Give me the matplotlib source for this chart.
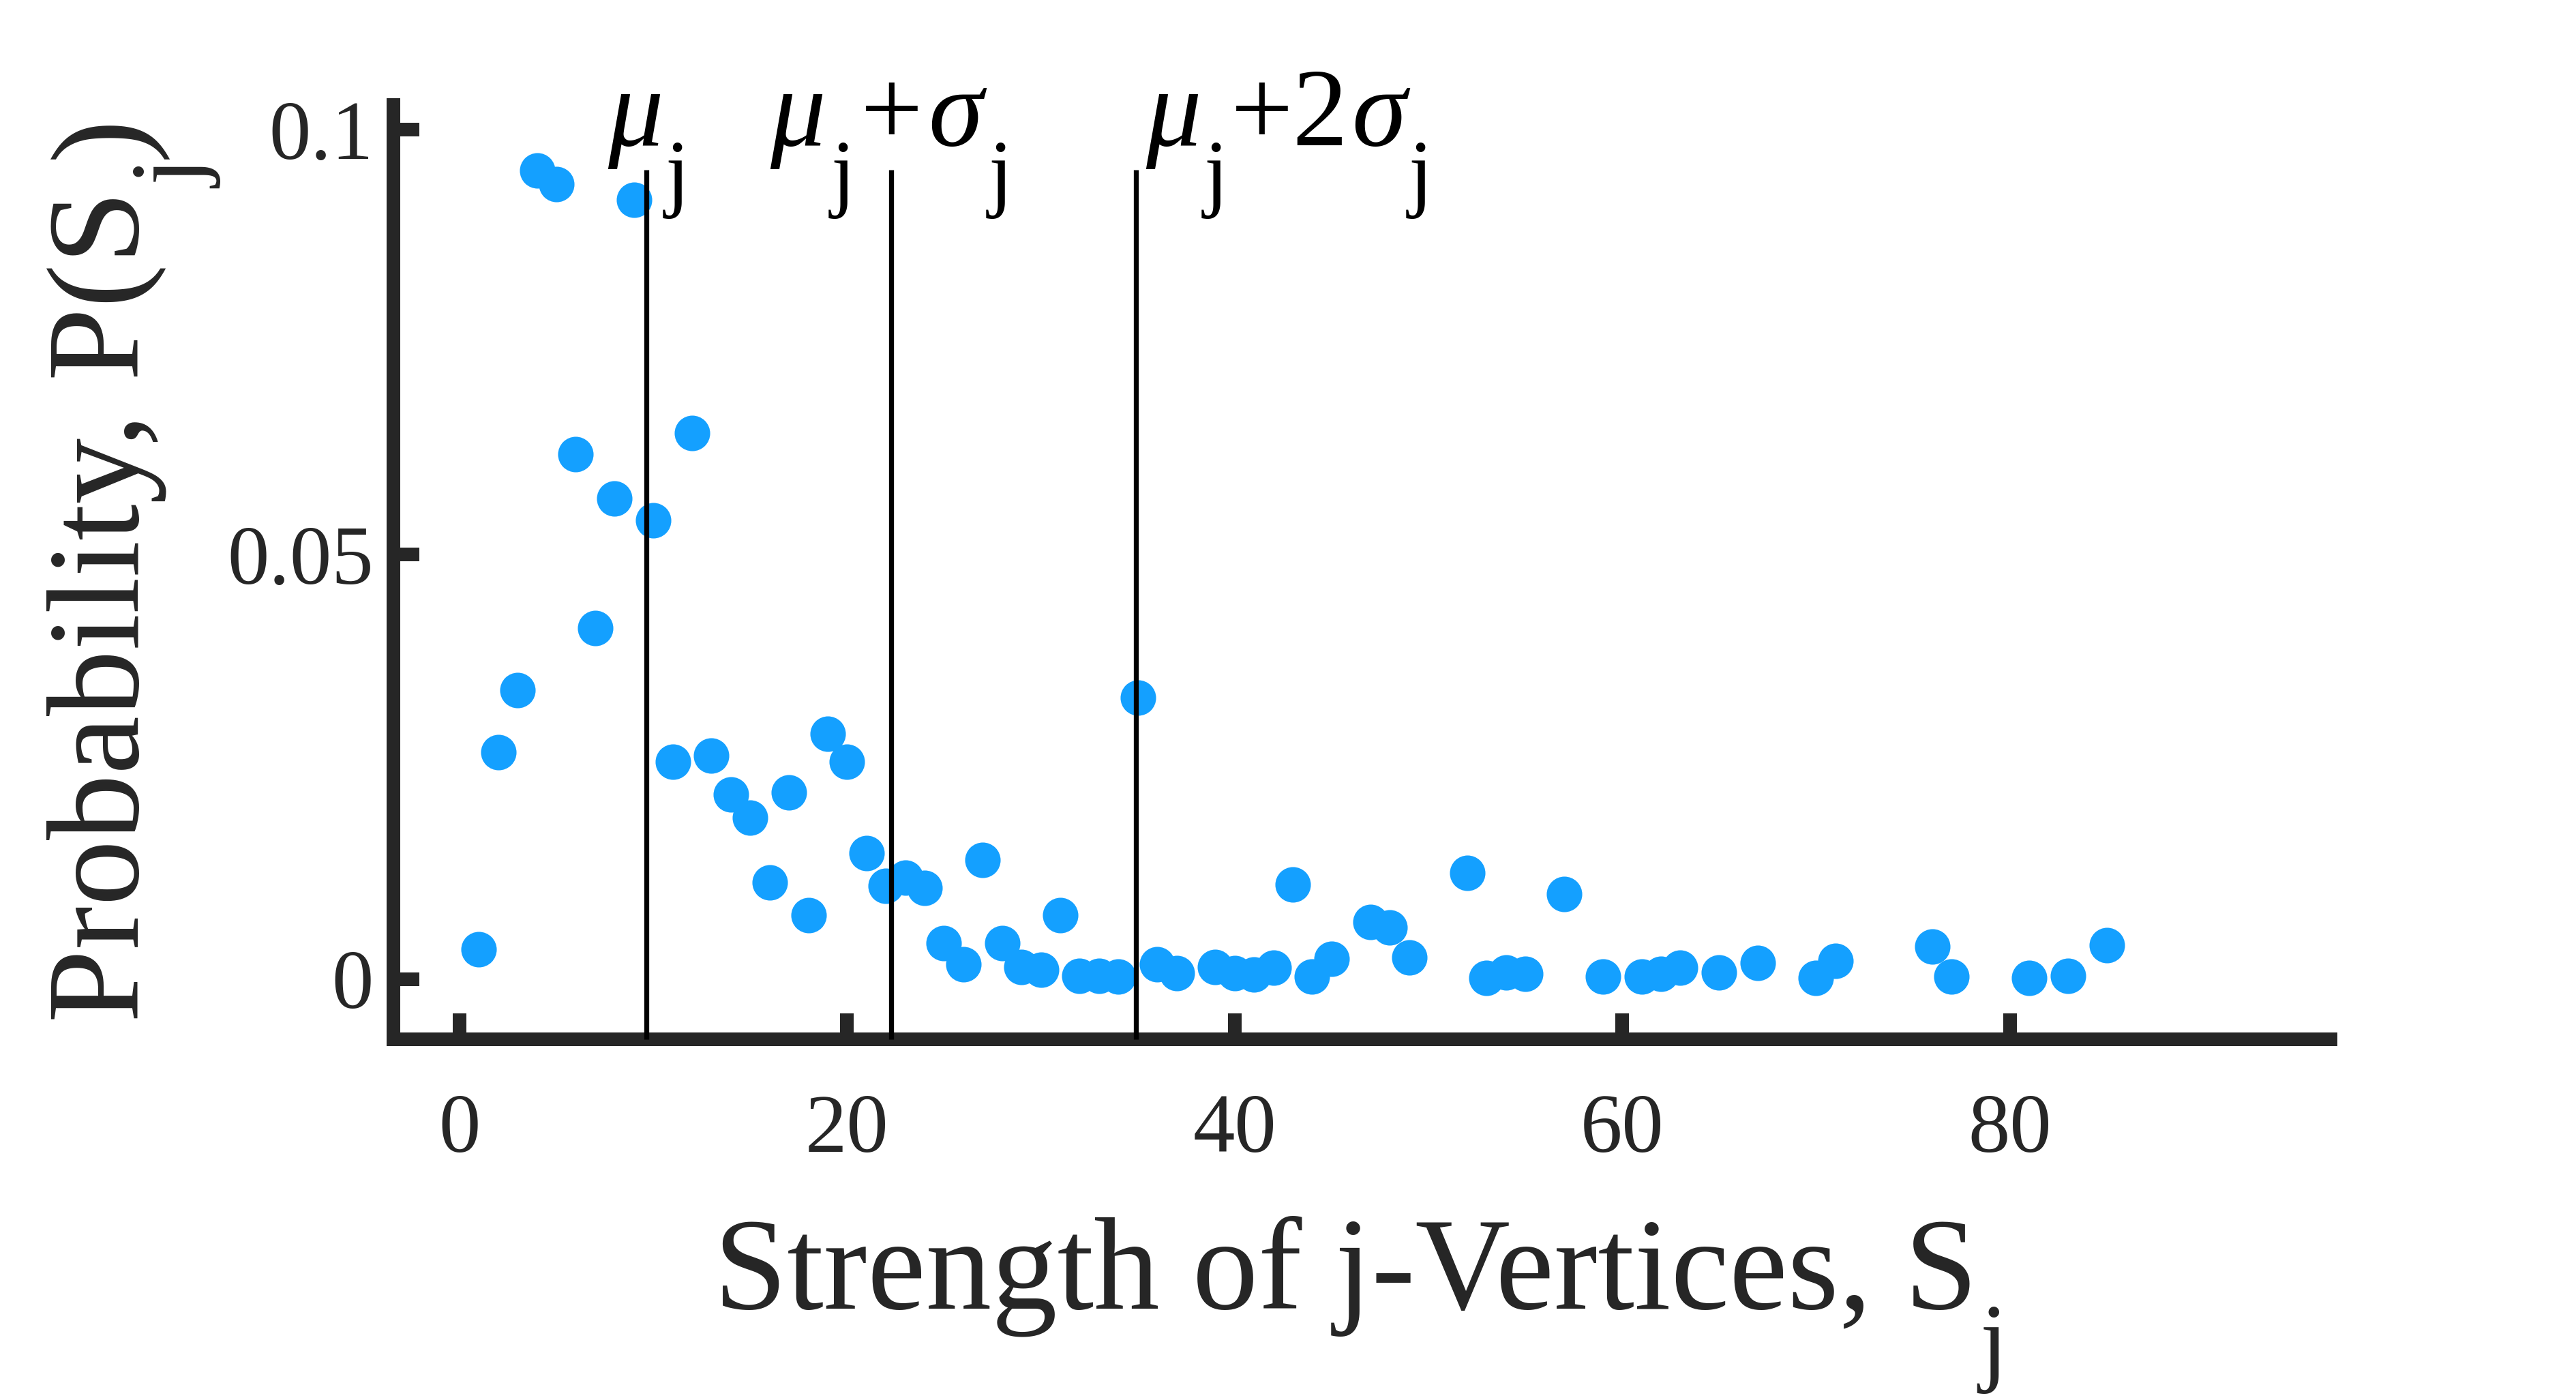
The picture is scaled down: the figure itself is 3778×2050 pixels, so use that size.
import matplotlib
matplotlib.use("Agg")
import matplotlib.pyplot as plt
from matplotlib.transforms import IdentityTransform

# ---------------- data ----------------
strength = [1, 2, 3, 4, 5, 6, 7, 8, 9, 10, 11, 12, 13, 14, 15, 16, 17, 18, 19, 20,
            21, 22, 23, 24, 25, 26, 27, 28, 29, 30, 31, 32, 33, 34, 35, 36, 37,
            39, 40, 41, 42, 43, 44, 45, 47, 48, 49, 52, 53, 54, 55, 57, 59, 61,
            62, 63, 65, 67, 70, 71, 76, 77, 81, 83, 85]
probability = [0.0035, 0.0267, 0.0340, 0.0952, 0.0936, 0.0618, 0.0413, 0.0566,
               0.0917, 0.0540, 0.0256, 0.0643, 0.0263, 0.0217, 0.0190, 0.0114,
               0.0220, 0.0075, 0.0289, 0.0256, 0.0148, 0.0110, 0.0119, 0.0107,
               0.0042, 0.0017, 0.0140, 0.0042, 0.0014, 0.0011, 0.0075, 0.0004,
               0.0004, 0.0003, 0.0331, 0.0017, 0.0007,
               0.0014, 0.0007, 0.0005, 0.0013, 0.0111, 0.0003, 0.0024, 0.0067,
               0.0061, 0.0025, 0.0125, 0.0001, 0.0008, 0.0006, 0.0100, 0.0003,
               0.0003, 0.0006, 0.0013, 0.0008, 0.0019, 0.0001, 0.0021, 0.0038,
               0.0003, 0.0001, 0.0004, 0.0040]
mu_j = 9.63
sigma_j = 12.64
line_top = 0.0953
x_ticks = [0, 20, 40, 60, 80]
x_tick_labels = ["0", "20", "40", "60", "80"]
y_ticks = [0, 0.05, 0.1]
y_tick_labels = ["0", "0.05", "0.1"]

# ---------------- figure ----------------
W, H, DPI = 3779, 2050, 300
plt.rcParams["font.family"] = ["Liberation Serif", "DejaVu Serif"]
AX_COLOR = "#262626"
DOT_COLOR = "#14A0FF"

fig = plt.figure(figsize=(W / DPI, H / DPI), dpi=DPI)
fig.patch.set_facecolor("white")
ax = fig.add_axes([577 / W, 1 - 1524 / H, (3418 - 577) / W, (1524 - 154) / H])
ax.set_xlim(-3.41, 96.55)
ax.set_ylim(-0.0071, 0.1029)

ax.plot(strength, probability, "o", ms=12.5, color=DOT_COLOR, mec="none",
        zorder=2, clip_on=False)

ybot = ax.get_ylim()[0]
line_x = [mu_j, mu_j + sigma_j, mu_j + 2 * sigma_j]
ax.vlines(line_x, ybot, line_top, colors="black", linewidth=1.75, zorder=3,
          clip_on=False)

for side in ("top", "right"):
    ax.spines[side].set_visible(False)
for side in ("left", "bottom"):
    ax.spines[side].set_linewidth(4.8)
    ax.spines[side].set_color(AX_COLOR)
    ax.spines[side].set_capstyle("projecting")

ax.set_xticks(x_ticks)
ax.set_xticklabels(x_tick_labels)
ax.set_yticks(y_ticks)
ax.set_yticklabels(y_tick_labels)
ax.tick_params(direction="in", length=9.2, width=4.8, colors=AX_COLOR,
               labelsize=29.5)
ax.tick_params(axis="x", pad=19)
ax.tick_params(axis="y", pad=7)
for lab in ax.get_xticklabels() + ax.get_yticklabels():
    lab.set_color(AX_COLOR)

renderer = fig.canvas.get_renderer()


def chain(x0, y0, pieces, rotation=0, align="left", color=AX_COLOR, gap=3.0):
    """Place text runs one after another; y0 measured from top of image."""
    y0 = H - y0
    if rotation == 0:
        along, down = (1.0, 0.0), (0.0, -1.0)
    else:
        along, down = (0.0, 1.0), (1.0, 0.0)
    objs, lengths = [], []
    for s, size, italic, drop in pieces:
        t = fig.text(0, 0, s, fontsize=size,
                     fontstyle="italic" if italic else "normal",
                     ha="left", va="baseline", rotation=rotation,
                     rotation_mode="anchor", transform=IdentityTransform(),
                     color=color)
        bb = t.get_window_extent(renderer)
        lengths.append(bb.width if rotation == 0 else bb.height)
        objs.append((t, drop))
    total = sum(lengths) + gap * (len(lengths) - 1)
    pos = -total / 2 if align == "center" else 0.0
    for (t, drop), L in zip(objs, lengths):
        px = x0 + along[0] * pos + down[0] * drop
        py = y0 + along[1] * pos + down[1] * drop
        t.set_position((px, py))
        pos += L + gap
    return objs


MAIN = 39
SUB = 30.5
DROP = MAIN * DPI / 72 * 0.5
line_px = [ax.transData.transform((lx, 0))[0] for lx in line_x]
BASE = 213

chain(line_px[0] + 3, BASE, [("μ", MAIN, True, 0), ("j", SUB, False, DROP)],
      align="center", color="black")
chain(line_px[1], BASE,
      [("μ", MAIN, True, 0), ("j", SUB, False, DROP), ("+", MAIN, False, 0),
       ("σ", MAIN, True, 0), ("j", SUB, False, DROP)],
      align="center", color="black", gap=8)
chain(line_px[2] + 14, BASE,
      [("μ", MAIN, True, 0), ("j", SUB, False, DROP), ("+2", MAIN, False, 0),
       ("σ", MAIN, True, 0), ("j", SUB, False, DROP)],
      align="left", color="black", gap=4)

LAB = 46.3
LSUB = 35
LDROP = LAB * DPI / 72 * 0.49
chain(1047, 1918, [("Strength of j-Vertices, S", LAB, False, 0),
                   ("j", LSUB, False, LDROP)])
chain(203, 1499, [("Probability, P(S", LAB, False, 0),
                  ("j", LSUB, False, LDROP), (")", LAB, False, 0)],
      rotation=90)

fig.savefig("out.png", dpi=DPI, facecolor="white")
